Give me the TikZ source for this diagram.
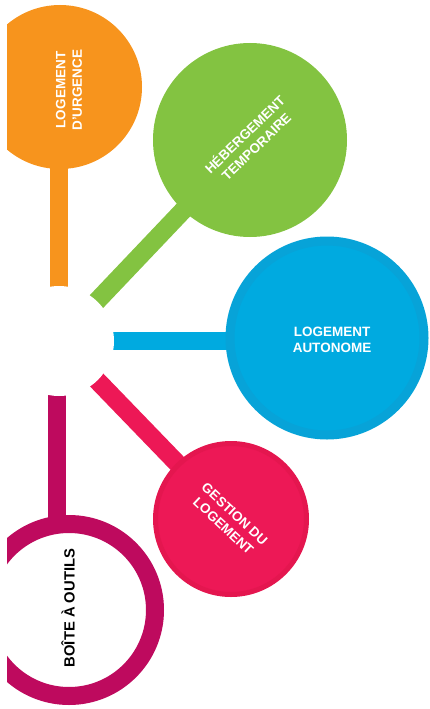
\documentclass[tikz,border=0pt]{standalone}
\usepackage{fontspec}
\setmainfont{Liberation Sans}
\usetikzlibrary{backgrounds}
\definecolor{corange}{HTML}{F7941D}
\definecolor{cgreen}{HTML}{83C341}
\definecolor{cblue}{HTML}{00AAE0}
\definecolor{cbluedark}{HTML}{07A3D8}
\definecolor{cpink}{HTML}{ED1856}
\definecolor{cpinkdark}{HTML}{E4164F}
\definecolor{cmagenta}{HTML}{BE0A5E}
\begin{document}
\begin{tikzpicture}[x=1pt,y=-1pt,
  disc/.style={circle, inner sep=0pt, outer sep=0pt},
  stickline/.style={line width=18.5pt},
  lbl/.style={font=\fontsize{13.5}{16.5}\selectfont\bfseries, text=white, align=center, inner sep=0pt},
  blbl/.style={font=\fontsize{14.8}{17}\selectfont\bfseries, text=black, align=center, inner sep=0pt}]
\useasboundingbox (0,0) rectangle (429,709);
\begin{scope}
\clip (7,0) rectangle (429,709);
% circles
\node[disc, fill=corange, minimum size=164pt] (urg) at (60,87) {};
\node[disc, fill=cgreen, minimum size=194pt] (heb) at (250,140) {};
\node[disc, fill=cblue, draw=cbluedark, line width=9pt, minimum size=194pt] (auto) at (327,338) {};
\node[disc, fill=cpink, draw=cpinkdark, line width=5pt, minimum size=151pt] (gest) at (231,519) {};
\node[disc, draw=cmagenta, fill=white, line width=18pt, minimum size=172pt] (boite) at (69,610) {};
% hub
\node[disc, fill=white, minimum size=110pt] (hub) at (59,341) {};
% texts
\node[lbl, rotate=90] (urgtxt) at (69,90) {LOGEMENT\\D’URGENCE};
\node[lbl, rotate=44] (hebtxt) at (250,140) {HÉBERGEMENT\\TEMPORAIRE};
\node[lbl] (autotxt) at (332,340) {LOGEMENT\\AUTONOME};
\node[lbl, rotate=-43] (gesttxt) at (229,520) {GESTION DU\\LOGEMENT};
\node[blbl, rotate=90] (boitetxt) at (68,608) {BOÎTE À OUTILS};
\end{scope}
\begin{pgfonlayer}{background}
\draw[stickline, corange] (hub.center) -- (hub.center |- urg.center);
\draw[stickline, cgreen] (hub.center) -- (heb.center);
\draw[stickline, cblue] (hub.center) -- (hub.center -| auto.center);
\draw[stickline, cpink] (hub.center) -- (gest.center);
\draw[stickline, cmagenta] ([xshift=-2pt]hub.center) -- ([xshift=-2pt]hub.center |- boite.north);
\end{pgfonlayer}
\end{tikzpicture}
\end{document}
